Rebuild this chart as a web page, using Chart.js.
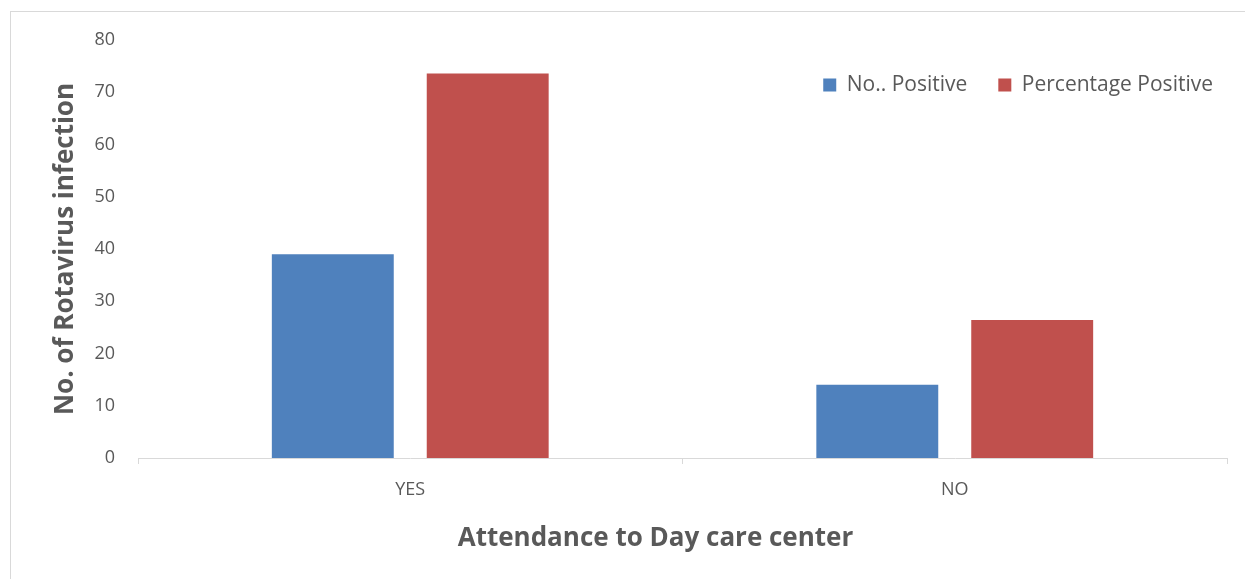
<!DOCTYPE html>
<html>
<head>
<meta charset="utf-8">
<script src="https://cdn.jsdelivr.net/npm/chart.js@4"></script>
<style>
  html, body { margin:0; padding:0; background:#fff; overflow:hidden; }
  #wrap { position:relative; width:1245px; height:579px; }
  #frame { position:absolute; left:10px; top:11px; width:1300px; height:600px; border:1px solid #d9d9d9; box-sizing:border-box; }
  canvas { position:absolute; left:0; top:0; }
</style>
</head>
<body>
<div id="wrap">
  <div id="frame"></div>
  <canvas id="chart" width="1245" height="579"></canvas>
</div>
<script>
// --- Data ---
const categories = ["YES", "NO"];
const noPositive = [39, 14];
const pctPositive = [73.58, 26.42];
const yTicks = [0, 10, 20, 30, 40, 50, 60, 70, 80];

const textColor = '#595959';
const lineColor = '#d9d9d9';
const fontFamily = "'Open Sans', 'Noto Sans', sans-serif";
const legendPad = 31;
const legendSize = 21;

// move the legend inside the plot area (top right), like the original
const legendInside = {
  id: 'legendInside',
  afterLayout(chart) {
    const lg = chart.legend;
    const h = lg.bottom - lg.top;
    lg.top = 85 - legendPad - legendSize / 2;
    lg.bottom = lg.top + h;
    lg.right = 1213 + legendPad;
  }
};

new Chart(document.getElementById('chart'), {
  type: 'bar',
  data: {
    labels: categories,
    datasets: [
      { label: 'No.. Positive', data: noPositive, backgroundColor: '#4F81BD', categoryPercentage: 0.569, barPercentage: 0.787 },
      { label: 'Percentage Positive', data: pctPositive, backgroundColor: '#C0504D', categoryPercentage: 0.569, barPercentage: 0.787 }
    ]
  },
  plugins: [legendInside],
  options: {
    responsive: false,
    animation: false,
    // legend box is 21 + 31 + 10 = 62 tall, so -22 puts the plot top at 40
    layout: { padding: { left: 0, top: -22, right: 18, bottom: 0 } },
    plugins: {
      legend: {
        position: 'top',
        align: 'end',
        labels: {
          color: textColor,
          font: { family: fontFamily, size: legendSize },
          boxWidth: 13, boxHeight: 13,
          padding: legendPad
        }
      },
      tooltip: { enabled: false }
    },
    scales: {
      x: {
        afterFit: s => { s.height = 121; },
        grid: { display: true, offset: true, drawOnChartArea: false, drawTicks: true, tickLength: 6, color: lineColor },
        border: { display: true, color: lineColor, width: 1 },
        ticks: { color: textColor, font: { family: fontFamily, size: 18 }, padding: 15 },
        // trailing spaces nudge the centred title left, as in the original
        title: { display: true, text: 'Attendance to Day care center        ', color: textColor,
                 font: { family: fontFamily, size: 26, weight: 'bold' }, padding: { top: 0, bottom: 25 } }
      },
      y: {
        min: 0, max: 80,
        afterFit: s => { s.width = 138; },
        afterBuildTicks: s => { s.ticks = yTicks.map(v => ({ value: v })); },
        grid: { display: false, drawTicks: false },
        border: { display: false },
        ticks: { color: textColor, font: { family: fontFamily, size: 18 }, padding: 23 },
        title: { display: true, text: 'No. of Rotavirus infection', color: textColor,
                 font: { family: fontFamily, size: 26, weight: 'bold' }, padding: { top: 50, bottom: 0 } }
      }
    }
  }
});
</script>
</body>
</html>
